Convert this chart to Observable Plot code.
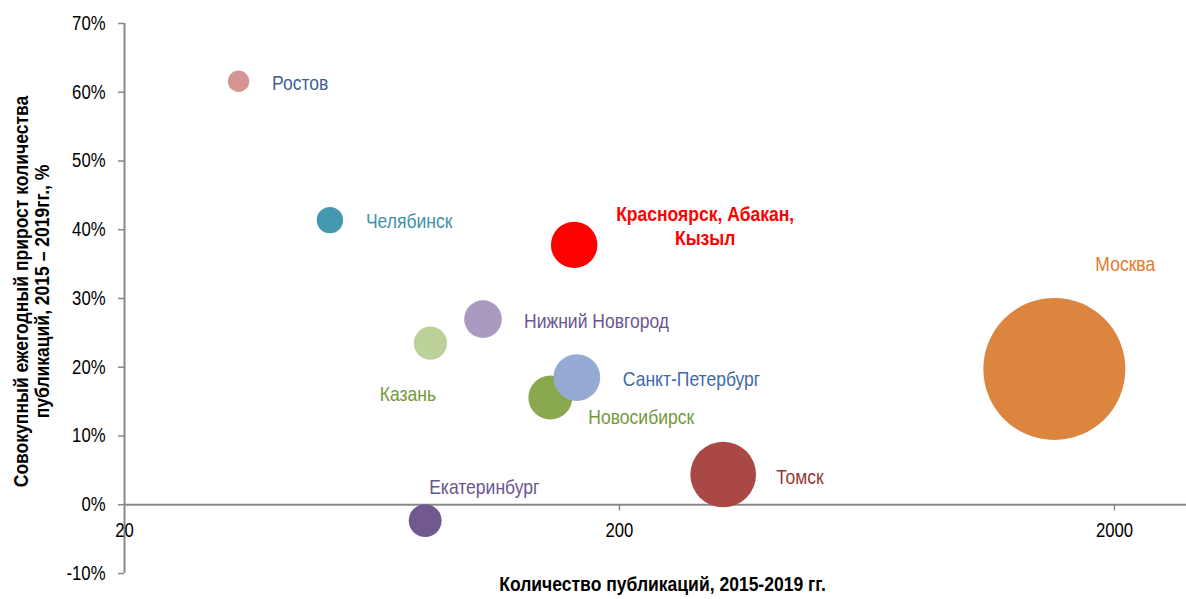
<!DOCTYPE html>
<html>
<head>
<meta charset="utf-8">
<script src="https://cdn.jsdelivr.net/npm/d3@7"></script>
<script src="https://cdn.jsdelivr.net/npm/@observablehq/plot@0.6"></script>
<style>
  html, body { margin: 0; padding: 0; background: #fff; }
  #chart svg { display: block; }
</style>
</head>
<body>
<div id="chart"></div>
<script>
// ---- data ----
const cities = ["Ростов", "Челябинск", "Красноярск, Абакан,\nКызыл", "Нижний Новгород", "Казань",
  "Новосибирск", "Санкт-Петербург", "Томск", "Екатеринбург", "Москва"];
const publications = [34, 52, 162, 106, 83, 145, 164, 324, 81, 1512];
const growth = [0.616, 0.414, 0.378, 0.270, 0.235, 0.156, 0.185, 0.044, -0.023, 0.1975];
const yTicks = [-0.1, 0, 0.1, 0.2, 0.3, 0.4, 0.5, 0.6, 0.7];
const xTicks = [20, 200, 2000];
const xTitle = "Количество публикаций, 2015-2019 гг.";
const yTitle1 = "Совокупный ежегодный прирост количества";
const yTitle2 = "публикаций, 2015 – 2019гг., %";

// ---- styles (keyed by city index) ----
const bubbleFill = ["#d49594", "#4499b0", "#ff0000", "#a99bc0", "#bdd19b",
  "#8aa84e", "#95abd3", "#aa4846", "#71598f", "#dc853f"];
const labelFill = ["#3f5f93", "#3d93a8", "#ff0000", "#6b5591", "#76983b",
  "#76983b", "#3f6aa6", "#953735", "#6b5591", "#e8782a"];
// label offsets in px relative to bubble centre: [dx, dy, anchor, weight]
const labelLayout = [
  [33.5, 1, "start", "normal"],
  [36, 0.5, "start", "normal"],
  [131, -19.5, "middle", "bold"],
  [41, 1.5, "start", "normal"],
  [-50.7, 50.5, "start", "normal"],
  [38, 18.5, "start", "normal"],
  [46, 0.5, "start", "normal"],
  [53, 1.5, "start", "normal"],
  [4, -34, "start", "normal"],
  [41, -105, "start", "normal"]
];

const font = "'Liberation Sans Narrow', 'Arial Narrow', 'Liberation Sans', Arial, sans-serif";
const idx = d3.range(cities.length);
const gray = "#898989";

const labelMarks = idx.map(i => Plot.text([i], {
  x: j => publications[j], y: j => growth[j], text: j => cities[j],
  dx: labelLayout[i][0], dy: labelLayout[i][1], textAnchor: labelLayout[i][2],
  fontWeight: labelLayout[i][3], fill: labelFill[i], fontSize: 21, lineHeight: 1.12
}));

const chart = Plot.plot({
  width: 1186, height: 599,
  marginLeft: 124, marginRight: 0, marginTop: 23, marginBottom: 26,
  style: { fontFamily: font, fontSize: "20px", background: "#fff", overflow: "visible" },
  x: { type: "log", domain: [20, 2796], axis: null },
  y: { domain: [-0.1, 0.7], axis: null },
  r: { type: "sqrt", domain: [0, 1512], range: [0, 71] },
  marks: [
    Plot.axisY(yTicks, { tickSize: 6, tickPadding: 13, stroke: gray, strokeWidth: 1.5, fill: "#000",
      tickFormat: d => Math.round(d * 100) + "%", fontSize: 20 }),
    Plot.ruleX([20], { stroke: gray, strokeWidth: 2 }),
    Plot.ruleY([0], { stroke: gray, strokeWidth: 2 }),
    Plot.ruleX(xTicks.slice(1), { x: d => d, y1: 0, y2: -0.009, stroke: gray, strokeWidth: 1.5 }),
    Plot.text(xTicks, { x: d => d, y: 0, dy: 26, text: d => String(d), fill: "#000", fontSize: 20 }),
    Plot.dot(idx, { x: i => publications[i], y: i => growth[i], r: i => publications[i],
      fill: i => bubbleFill[i], stroke: "none", sort: null }),
    ...labelMarks,
    Plot.text([xTitle], { frameAnchor: "bottom", textAnchor: "middle", dx: 7, dy: 17, fontWeight: "bold", fontSize: 21, fill: "#000" }),
    Plot.text([yTitle1], { frameAnchor: "left", textAnchor: "middle", dx: -103, dy: -7, rotate: -90, fontWeight: "bold", fontSize: 21, fill: "#000" }),
    Plot.text([yTitle2], { frameAnchor: "left", textAnchor: "middle", dx: -82, dy: -7, rotate: -90, fontWeight: "bold", fontSize: 21, fill: "#000" })
  ]
});

// No narrow face is installed: condense the glyphs horizontally around each text's anchor
chart.querySelectorAll("text").forEach(t => {
  const tr = t.getAttribute("transform") || "";
  t.setAttribute("transform", (tr + " scale(0.835,1)").trim());
});
document.getElementById("chart").appendChild(chart);
</script>
</body>
</html>
